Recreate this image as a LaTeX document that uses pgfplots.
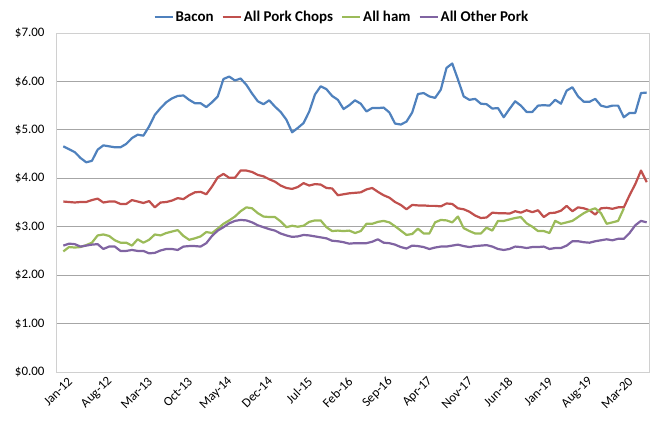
\documentclass[border=0pt]{standalone}
\usepackage{pgfplots}
\pgfplotsset{compat=1.18}
\usepackage{pgfplotstable}
\usepackage{fontspec}
\setmainfont{Carlito}
\definecolor{cBacon}{HTML}{4F81BD}
\definecolor{cChops}{HTML}{C0504D}
\definecolor{cHam}{HTML}{9BBB59}
\definecolor{cOther}{HTML}{8064A2}
\definecolor{cGrid}{HTML}{A6A6A6}
\definecolor{cBorder}{HTML}{D0D0D0}

\pgfplotstableread{
x y
0 4.66
1 4.60
2 4.54
3 4.42
4 4.33
5 4.36
6 4.59
7 4.68
8 4.66
9 4.64
10 4.64
11 4.71
12 4.83
13 4.90
14 4.88
15 5.07
16 5.31
17 5.45
18 5.57
19 5.65
20 5.70
21 5.71
22 5.62
23 5.55
24 5.55
25 5.47
26 5.57
27 5.69
28 6.05
29 6.10
30 6.02
31 6.06
32 5.93
33 5.75
34 5.59
35 5.53
36 5.61
37 5.48
38 5.37
39 5.21
40 4.95
41 5.04
42 5.14
43 5.38
44 5.73
45 5.90
46 5.84
47 5.70
48 5.62
49 5.43
50 5.51
51 5.61
52 5.54
53 5.38
54 5.45
55 5.45
56 5.46
57 5.36
58 5.13
59 5.11
60 5.17
61 5.36
62 5.74
63 5.76
64 5.69
65 5.66
66 5.83
67 6.28
68 6.37
69 6.04
70 5.69
71 5.62
72 5.64
73 5.54
74 5.53
75 5.44
76 5.45
77 5.26
78 5.43
79 5.59
80 5.50
81 5.37
82 5.37
83 5.50
84 5.51
85 5.50
86 5.62
87 5.54
88 5.81
89 5.88
90 5.69
91 5.58
92 5.58
93 5.64
94 5.50
95 5.47
96 5.50
97 5.50
98 5.26
99 5.35
100 5.35
101 5.76
102 5.77
}\bacon

\pgfplotstableread{
x y
0 3.52
1 3.51
2 3.50
3 3.51
4 3.51
5 3.55
6 3.58
7 3.50
8 3.52
9 3.52
10 3.47
11 3.47
12 3.55
13 3.52
14 3.49
15 3.53
16 3.40
17 3.50
18 3.51
19 3.54
20 3.59
21 3.57
22 3.65
23 3.71
24 3.72
25 3.67
26 3.83
27 4.02
28 4.09
29 4.01
30 4.01
31 4.16
32 4.16
33 4.13
34 4.07
35 4.04
36 3.98
37 3.93
38 3.85
39 3.80
40 3.78
41 3.82
42 3.90
43 3.85
44 3.88
45 3.87
46 3.80
47 3.79
48 3.65
49 3.67
50 3.69
51 3.70
52 3.71
53 3.77
54 3.80
55 3.72
56 3.65
57 3.60
58 3.51
59 3.45
60 3.36
61 3.45
62 3.44
63 3.44
64 3.43
65 3.43
66 3.42
67 3.48
68 3.47
69 3.38
70 3.36
71 3.31
72 3.23
73 3.18
74 3.19
75 3.29
76 3.28
77 3.28
78 3.27
79 3.32
80 3.29
81 3.34
82 3.30
83 3.34
84 3.20
85 3.28
86 3.29
87 3.33
88 3.43
89 3.32
90 3.40
91 3.38
92 3.34
93 3.25
94 3.38
95 3.39
96 3.37
97 3.40
98 3.40
99 3.65
100 3.88
101 4.16
102 3.92
}\chops

\pgfplotstableread{
x y
0 2.49
1 2.58
2 2.57
3 2.58
4 2.62
5 2.67
6 2.82
7 2.84
8 2.81
9 2.72
10 2.67
11 2.67
12 2.61
13 2.74
14 2.67
15 2.73
16 2.84
17 2.82
18 2.87
19 2.90
20 2.93
21 2.81
22 2.73
23 2.76
24 2.80
25 2.89
26 2.87
27 2.96
28 3.06
29 3.13
30 3.21
31 3.32
32 3.40
33 3.38
34 3.28
35 3.21
36 3.20
37 3.20
38 3.11
39 2.99
40 3.02
41 3.00
42 3.02
43 3.10
44 3.13
45 3.13
46 2.99
47 2.91
48 2.92
49 2.91
50 2.92
51 2.87
52 2.91
53 3.06
54 3.06
55 3.10
56 3.12
57 3.09
58 3.01
59 2.92
60 2.83
61 2.85
62 2.96
63 2.86
64 2.86
65 3.09
66 3.14
67 3.13
68 3.09
69 3.21
70 2.97
71 2.91
72 2.86
73 2.86
74 2.98
75 2.92
76 3.12
77 3.12
78 3.15
79 3.18
80 3.20
81 3.07
82 3.00
83 2.91
84 2.91
85 2.87
86 3.12
87 3.06
88 3.09
89 3.12
90 3.20
91 3.28
92 3.34
93 3.38
94 3.28
95 3.06
96 3.09
97 3.12
98 3.38
}\ham

\pgfplotstableread{
x y
0 2.61
1 2.65
2 2.64
3 2.59
4 2.61
5 2.63
6 2.64
7 2.54
8 2.59
9 2.59
10 2.50
11 2.50
12 2.52
13 2.50
14 2.50
15 2.45
16 2.46
17 2.51
18 2.54
19 2.54
20 2.52
21 2.59
22 2.60
23 2.60
24 2.59
25 2.66
26 2.81
27 2.92
28 2.99
29 3.07
30 3.12
31 3.14
32 3.13
33 3.09
34 3.03
35 2.99
36 2.95
37 2.92
38 2.86
39 2.82
40 2.79
41 2.80
42 2.83
43 2.82
44 2.80
45 2.78
46 2.76
47 2.71
48 2.70
49 2.68
50 2.65
51 2.66
52 2.66
53 2.66
54 2.69
55 2.74
56 2.67
57 2.66
58 2.63
59 2.58
60 2.55
61 2.61
62 2.60
63 2.58
64 2.54
65 2.57
66 2.59
67 2.59
68 2.61
69 2.63
70 2.60
71 2.58
72 2.60
73 2.61
74 2.62
75 2.59
76 2.54
77 2.52
78 2.54
79 2.59
80 2.58
81 2.56
82 2.58
83 2.58
84 2.59
85 2.54
86 2.56
87 2.56
88 2.61
89 2.70
90 2.70
91 2.68
92 2.67
93 2.70
94 2.72
95 2.74
96 2.72
97 2.75
98 2.75
99 2.87
100 3.03
101 3.12
102 3.09
}\other

\begin{document}
\begin{tikzpicture}
\useasboundingbox (-56bp,-52bp) rectangle (601bp,372bp);
\begin{axis}[
  at={(0,0)}, anchor=south west,
  scale only axis,
  width=593bp, height=339bp,
  xmin=-1.28, xmax=102.4,
  ymin=0, ymax=7,
  ytick={0,1,...,7},
  xtick={0,7,...,98},
  xticklabels={Jan-12,Aug-12,Mar-13,Oct-13,May-14,Dec-14,Jul-15,Feb-16,Sep-16,Apr-17,Nov-17,Jun-18,Jan-19,Aug-19,Mar-20},
  major tick length=0pt,
  ymajorgrids,
  grid style={cGrid, line width=0.8bp},
  axis line style={cBorder, line width=0.9bp},
  /pgf/number format/assume math mode=true,
  yticklabel={\$\pgfmathprintnumber[fixed,fixed zerofill,precision=2]{\tick}},
  yticklabel style={font=\fontsize{13}{15}\selectfont, xshift=-8bp},
  xticklabel style={font=\fontsize{13}{15}\selectfont, rotate=45, anchor=east, yshift=-10bp, xshift=3bp},
  legend columns=4,
  legend style={at={(axis description cs:0.482,1)}, anchor=center, yshift=16bp,
    draw=none, fill=none, font=\bfseries\fontsize{15}{17}\selectfont,
    /tikz/every even column/.append style={column sep=6bp},
    inner sep=0pt},
  legend image code/.code={\draw[#1] (0bp,0bp) -- (18bp,0bp);},
  every axis plot/.append style={line width=2.2bp, line join=round},
]
\addplot[cBacon] table {\bacon};
\addlegendentry{Bacon}
\addplot[cChops] table {\chops};
\addlegendentry{All Pork Chops}
\addplot[cHam] table {\ham};
\addlegendentry{All ham}
\addplot[cOther] table {\other};
\addlegendentry{All Other Pork}
\end{axis}
\end{tikzpicture}
\end{document}
